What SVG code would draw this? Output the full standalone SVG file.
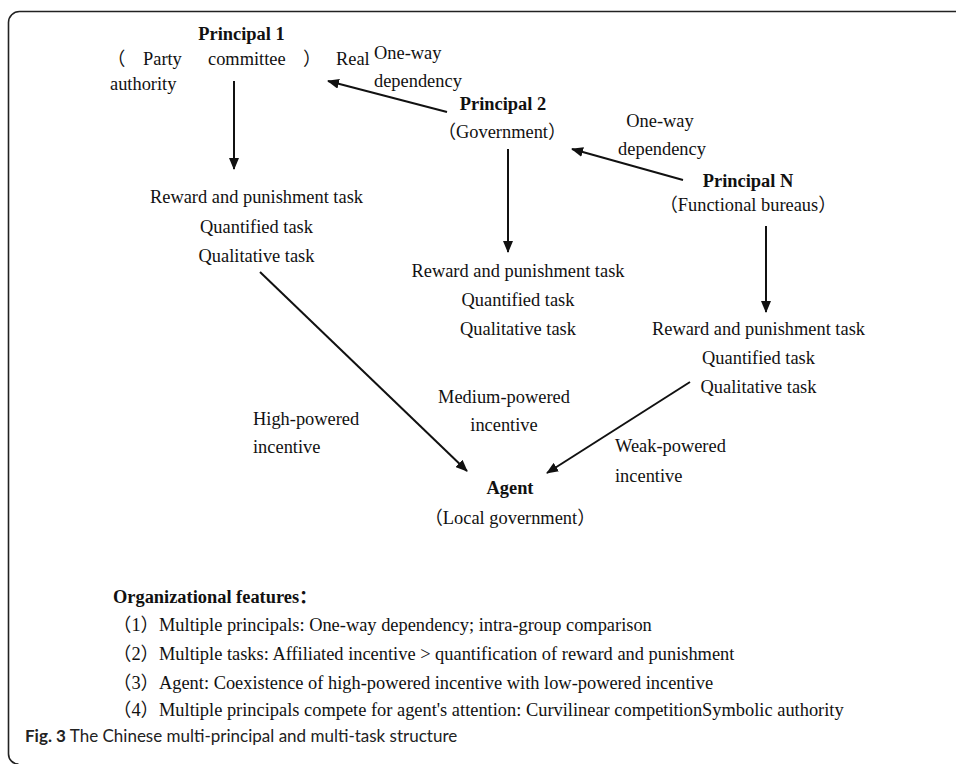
<svg xmlns="http://www.w3.org/2000/svg" width="956" height="764" viewBox="0 0 956 764">
<style>
text{font-family:"Liberation Serif","Noto Sans CJK SC",serif;font-size:18.4px;fill:#111}
.b{font-weight:bold}
.m{text-anchor:middle}
.cap{font-family:Lato,"Open Sans",sans-serif;font-size:17px;fill:#222}
.ln{stroke:#111;stroke-width:2;fill:none;marker-end:url(#ah)}
</style>
<defs>
<marker id="ah" viewBox="0 0 12 10" refX="11" refY="5" markerWidth="12" markerHeight="10" markerUnits="userSpaceOnUse" orient="auto">
<path d="M0,0 L12,5 L0,10 Z" fill="#111"/>
</marker>
</defs>
<rect width="956" height="764" fill="#fff"/>
<path d="M956 11.5 H19.5 A11 11 0 0 0 8.5 22.5 V754 A10 10 0 0 0 18.5 764" fill="none" stroke="#222" stroke-width="1.6"/>

<g id="principal1">
<text class="b m" x="241.5" y="40">Principal 1</text>
<text x="107" y="65">（</text>
<text x="143" y="65">Party</text>
<text x="208" y="65">committee</text>
<text x="303" y="65">）</text>
<text x="336" y="65">Real</text>
<text x="110" y="90">authority</text>
</g>
<g id="principal2">
<text class="b m" x="503" y="110">Principal 2</text>
<text class="m" x="502" y="138">（Government）</text>
</g>
<g id="principalN">
<text class="b m" x="748" y="187">Principal N</text>
<text class="m" x="748" y="211">（Functional bureaus）</text>
</g>
<g id="tasks1">
<text class="m" x="256.5" y="203">Reward and punishment task</text>
<text class="m" x="256.5" y="233">Quantified task</text>
<text class="m" x="256.5" y="262">Qualitative task</text>
</g>
<g id="tasks2">
<text class="m" x="518" y="277">Reward and punishment task</text>
<text class="m" x="518" y="306">Quantified task</text>
<text class="m" x="518" y="335">Qualitative task</text>
</g>
<g id="tasks3">
<text class="m" x="758.5" y="335">Reward and punishment task</text>
<text class="m" x="758.5" y="364">Quantified task</text>
<text class="m" x="758.5" y="393">Qualitative task</text>
</g>
<g id="agent">
<text class="b m" x="510" y="494">Agent</text>
<text class="m" x="510" y="524">（Local government）</text>
</g>

<g id="connectors">
<line class="ln" x1="234" y1="81" x2="234" y2="169"/>
<line class="ln" x1="508" y1="149" x2="508" y2="252"/>
<line class="ln" x1="766" y1="226" x2="766" y2="312"/>
<line class="ln" x1="447" y1="112" x2="328" y2="81"/>
<line class="ln" x1="683" y1="180" x2="572" y2="149"/>
<line class="ln" x1="260" y1="272" x2="467" y2="471"/>
<line class="ln" x1="690" y1="382" x2="547" y2="473"/>
</g>

<g id="labels">
<text x="374" y="59">One-way</text>
<text x="374" y="87">dependency</text>
<text class="m" x="660" y="127">One-way</text>
<text class="m" x="662" y="155">dependency</text>
<text class="m" x="504" y="403">Medium-powered</text>
<text class="m" x="504" y="431">incentive</text>
<text x="253" y="425">High-powered</text>
<text x="253" y="453">incentive</text>
<text x="615" y="452">Weak-powered</text>
<text x="615" y="482">incentive</text>
</g>

<g id="features">
<text class="b" x="113" y="603">Organizational features：</text>
<text x="113" y="631">（1）Multiple principals: One-way dependency; intra-group comparison</text>
<text x="113" y="660">（2）Multiple tasks: Affiliated incentive &gt; quantification of reward and punishment</text>
<text x="113" y="689">（3）Agent: Coexistence of high-powered incentive with low-powered incentive</text>
<text x="113" y="716">（4）Multiple principals compete for agent's attention: Curvilinear competitionSymbolic authority</text>
</g>

<text class="cap" x="25" y="742"><tspan font-weight="bold">Fig. 3</tspan> The Chinese multi-principal and multi-task structure</text>
</svg>
